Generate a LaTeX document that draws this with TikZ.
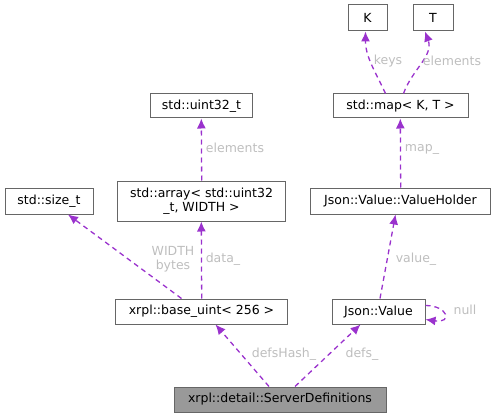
\documentclass[tikz,border=0pt]{standalone}
\usepackage{fontspec}
\setmainfont{DejaVu Sans}
\usetikzlibrary{arrows.meta}
\definecolor{edgec}{HTML}{9A32CD}
\definecolor{boxc}{HTML}{666666}
\definecolor{labc}{HTML}{BEBEBE}
\definecolor{fillc}{HTML}{999999}
\tikzset{
  cls/.style={draw=boxc, line width=1pt, rectangle, inner sep=0pt, align=center, font=\fontsize{12.5}{14}\selectfont, fill=white},
  rel/.style={draw=edgec, line width=1.3pt, dash pattern=on 5pt off 4pt, -{Latex[length=10pt,width=9pt]}},
  lab/.style={text=labc, font=\fontsize{12.5}{14}\selectfont, inner sep=0pt, align=center}
}
\begin{document}
\begin{tikzpicture}[x=1pt,y=-1pt]
\useasboundingbox (0,0) rectangle (495,417);
% nodes
\node[cls, minimum width=39pt, minimum height=26pt] (K) at (367.5,18) {K};
\node[cls, minimum width=40pt, minimum height=26pt] (T) at (433,18) {T};
\node[cls, minimum width=135pt, minimum height=24pt] (map) at (400.5,106) {std::map\textless{} K, T \textgreater{}};
\node[cls, minimum width=102pt, minimum height=24pt] (u32) at (201.5,106) {std::uint32\_t};
\node[cls, minimum width=88pt, minimum height=26pt] (sz) at (49,201) {std::size\_t};
\node[cls, minimum width=168pt, minimum height=40pt] (arr) at (201.5,201) {std::array\textless{} std::uint32\\\_t, WIDTH \textgreater{}};
\node[cls, minimum width=180pt, minimum height=26pt] (vh) at (400.5,201) {Json::Value::ValueHolder};
\node[cls, minimum width=172pt, minimum height=25pt] (base) at (201.5,311.5) {xrpl::base\_uint\textless{} 256 \textgreater{}};
\node[cls, minimum width=93pt, minimum height=25pt] (jv) at (378.5,311.5) {Json::Value};
\node[cls, fill=fillc, minimum width=212pt, minimum height=25pt] (sd) at (280,399.5) {xrpl::detail::ServerDefinitions};
% edges
\draw[rel] ([xshift=-15pt]map.north) to[out=115,in=-90] ([xshift=-2pt]K.south);
\draw[rel] ([xshift=3pt]map.north) to[out=70,in=-70] ([xshift=-8pt]T.south);
\draw[rel] ([xshift=0.2pt]arr.north) -- ([xshift=-0.2pt]u32.south);
\draw[rel] ([xshift=0.2pt]vh.north) -- ([xshift=-0.2pt]map.south);
\draw[rel] ([xshift=-20pt]base.north) -- ([xshift=19pt]sz.south);
\draw[rel] ([xshift=0.2pt]base.north) -- ([xshift=-0.2pt]arr.south);
\draw[rel] ([xshift=1.5pt]jv.north) -- ([xshift=-5pt]vh.south);
\draw[rel] ([yshift=6pt]jv.east) .. controls +(22,0) and +(28,4) .. ([yshift=-8pt]jv.east);
\draw[rel] ([xshift=-11pt]sd.north) -- ([xshift=14pt]base.south);
\draw[rel] ([xshift=15pt]sd.north) -- ([xshift=-18pt]jv.south);
% labels
\node[lab] (lkeys) at (388,61) {keys};
\node[lab] (lel1) at (452,61) {elements};
\node[lab] (lel2) at (235,148) {elements};
\node[lab] (lmap) at (422,149) {map\_};
\node[lab] (lwidth) at (173,259) {WIDTH\\bytes};
\node[lab] (ldata) at (223,259) {data\_};
\node[lab] (lvalue) at (416,259) {value\_};
\node[lab] (lnull) at (465,310) {null};
\node[lab] (lhash) at (284,354) {defsHash\_};
\node[lab] (ldefs) at (362,354) {defs\_};
\end{tikzpicture}
\end{document}
